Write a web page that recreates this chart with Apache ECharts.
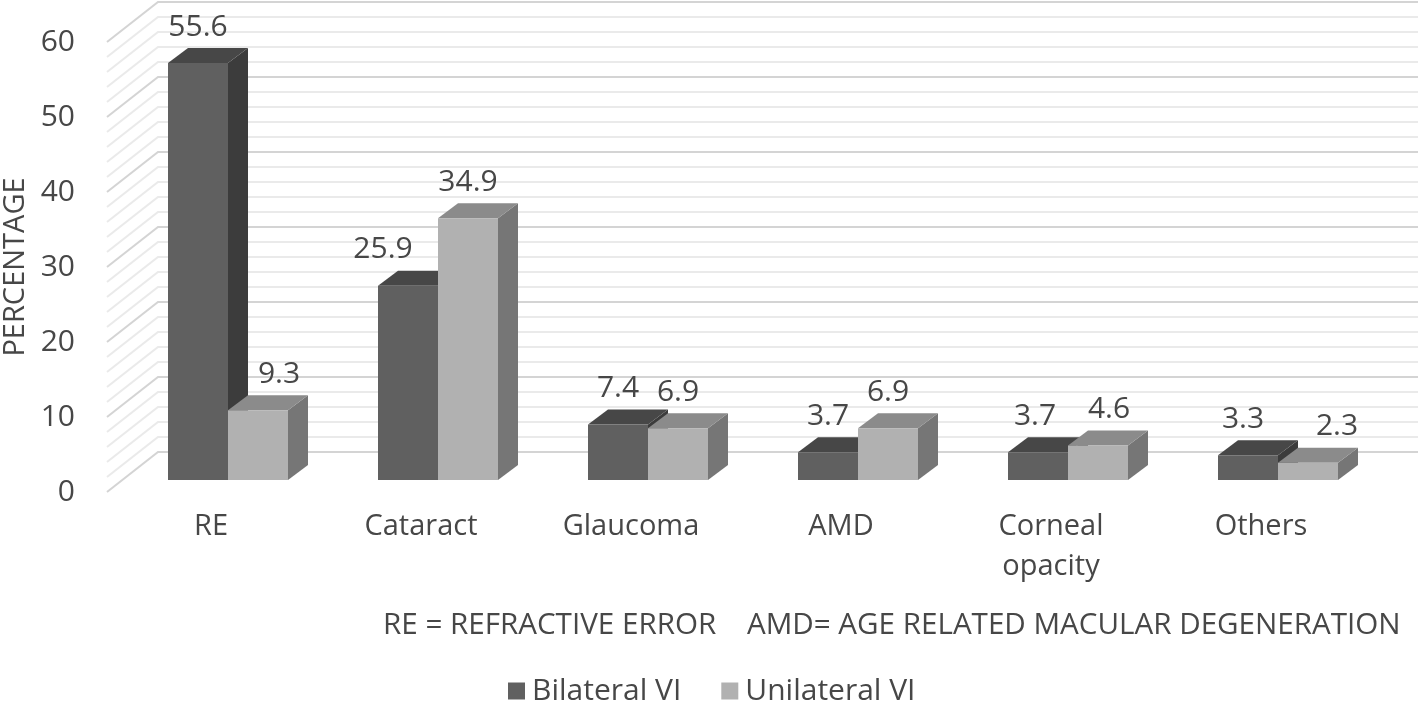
<!DOCTYPE html>
<html>
<head>
<meta charset="utf-8">
<script src="https://cdn.jsdelivr.net/npm/echarts@6/dist/echarts.min.js"></script>
<style>
html,body{margin:0;padding:0;background:#fff;}
#chart{width:1418px;height:705px;}
</style>
</head>
<body>
<div id="chart"></div>
<script>
var categories = ['RE', 'Cataract', 'Glaucoma', 'AMD', 'Corneal\nopacity', 'Others'];
var bilateral = [55.6, 25.9, 7.4, 3.7, 3.7, 3.3];
var unilateral = [9.3, 34.9, 6.9, 6.9, 4.6, 2.3];
var seriesNames = ['Bilateral VI', 'Unilateral VI'];
var gridValues = [0, 2, 4, 6, 8, 10, 12, 14, 16, 18, 20, 22, 24, 26, 28, 30, 32, 34, 36, 38, 40, 42, 44, 46, 48, 50, 52, 54, 56, 58, 60];
var footnote = 'RE = REFRACTIVE ERROR    AMD= AGE RELATED MACULAR DEGENERATION';

var FONT = '"Open Sans", "Noto Sans", sans-serif';
var TEXT = '#474747';
var BAR_FRAC = 60 / 210;   // bar width as fraction of category band
var DX = 20, DY = 15;      // bar depth (px)
var WALL_FRONT = [-16, 12];  // side-wall front edge relative to bar plane
var WALL_BACK = [35, -28];   // back wall relative to bar plane
// horizontal nudges of data labels (px) to avoid collisions, like the original
var labelNudge = [[0, -25, 0, 0, -3, -5], [21, 0, 0, 0, 11, 29]];

var palettes = [
  {front: '#606060', top: '#474747', side: '#3c3c3c'},
  {front: '#b1b1b1', top: '#8b8b8b', side: '#767676'}
];

function barRenderer(idx) {
  var pal = palettes[idx];
  return function (params, api) {
    var ci = api.value(0), v = api.value(1);
    var base = api.coord([ci, 0]);
    var top = api.coord([ci, v]);
    var band = api.size([1, 0])[0];
    var w = band * BAR_FRAC;
    var x0 = idx === 0 ? base[0] - w : base[0];
    var x1 = x0 + w;
    var ty = top[1], by = base[1];
    return {
      type: 'group',
      children: [
        {type: 'polygon', shape: {points: [[x1, ty], [x1 + DX, ty - DY], [x1 + DX, by - DY], [x1, by]]}, style: {fill: pal.side}},
        {type: 'polygon', shape: {points: [[x0, ty], [x1, ty], [x1 + DX, ty - DY], [x0 + DX, ty - DY]]}, style: {fill: pal.top}},
        {type: 'rect', shape: {x: x0, y: ty, width: w, height: by - ty}, style: {fill: pal.front}},
        {type: 'text', x: (x0 + x1) / 2 + labelNudge[idx][params.dataIndex], y: ty - 36,
         style: {text: String(v), fill: TEXT, font: '30px ' + FONT, align: 'center', verticalAlign: 'middle'}}
      ]
    };
  };
}

function gridRenderer(params, api) {
  var v = api.value(1);
  var y = api.coord([0, v])[1];
  var cs = params.coordSys;
  var major = v % 10 === 0;
  return {
    type: 'polyline',
    shape: {points: [[cs.x + WALL_FRONT[0], y + WALL_FRONT[1]], [cs.x + WALL_BACK[0], y + WALL_BACK[1]], [1418, y + WALL_BACK[1]]]},
    style: {stroke: major ? '#d4d4d4' : '#eaeaea', lineWidth: 2, fill: null}
  };
}

var chart = echarts.init(document.getElementById('chart'), null, {renderer: 'canvas'});
chart.setOption({
  animation: false,
  backgroundColor: '#fff',
  grid: [
    {left: 123, width: 1260, top: 30, height: 450, containLabel: false, outerBoundsMode: 'none'},   // bar plane
    {left: 106, width: 1260, top: 42, height: 450, containLabel: false, outerBoundsMode: 'none'}    // front plane (axis labels)
  ],
  xAxis: [
    {type: 'category', gridIndex: 0, data: categories, axisLine: {show: false}, axisTick: {show: false}, splitLine: {show: false}, axisLabel: {show: false}},
    {type: 'category', gridIndex: 1, data: categories,
     axisLine: {show: false}, axisTick: {show: false}, splitLine: {show: false},
     axisLabel: {color: TEXT, fontSize: 29, fontFamily: FONT, lineHeight: 40, margin: 15, interval: 0}}
  ],
  yAxis: [
    {type: 'value', gridIndex: 0, min: 0, max: 60, interval: 10, axisLine: {show: false}, axisTick: {show: false}, splitLine: {show: false}, axisLabel: {show: false}},
    {type: 'value', gridIndex: 1, min: 0, max: 60, interval: 10,
     name: 'PERCENTAGE', nameLocation: 'middle', nameGap: 74, nameRotate: 90,
     nameTextStyle: {color: TEXT, fontSize: 29, fontFamily: FONT},
     axisLine: {show: false}, axisTick: {show: false}, splitLine: {show: false},
     axisLabel: {color: TEXT, fontSize: 30, fontFamily: FONT, margin: 31}}
  ],
  legend: {
    left: 503, top: 671, icon: 'rect', itemWidth: 17, itemHeight: 17, itemGap: 40,
    textStyle: {color: TEXT, fontSize: 30, fontFamily: FONT, padding: [0, 0, 0, 2]},
    data: seriesNames
  },
  graphic: [{
    type: 'text', left: 383, top: 611,
    style: {text: footnote, fill: TEXT, font: '29.6px ' + FONT}
  }],
  series: [
    {type: 'custom', name: 'grid', silent: true, z: 1, clip: false, renderItem: gridRenderer,
     xAxisIndex: 0, yAxisIndex: 0,
     data: gridValues.map(function (g) { return [0, g]; })},
    {type: 'custom', name: seriesNames[0], z: 2, clip: false, xAxisIndex: 0, yAxisIndex: 0,
     itemStyle: {color: palettes[0].front}, renderItem: barRenderer(0),
     data: bilateral.map(function (v, i) { return [i, v]; })},
    {type: 'custom', name: seriesNames[1], z: 3, clip: false, xAxisIndex: 0, yAxisIndex: 0,
     itemStyle: {color: palettes[1].front}, renderItem: barRenderer(1),
     data: unilateral.map(function (v, i) { return [i, v]; })}
  ]
});
</script>
</body>
</html>
